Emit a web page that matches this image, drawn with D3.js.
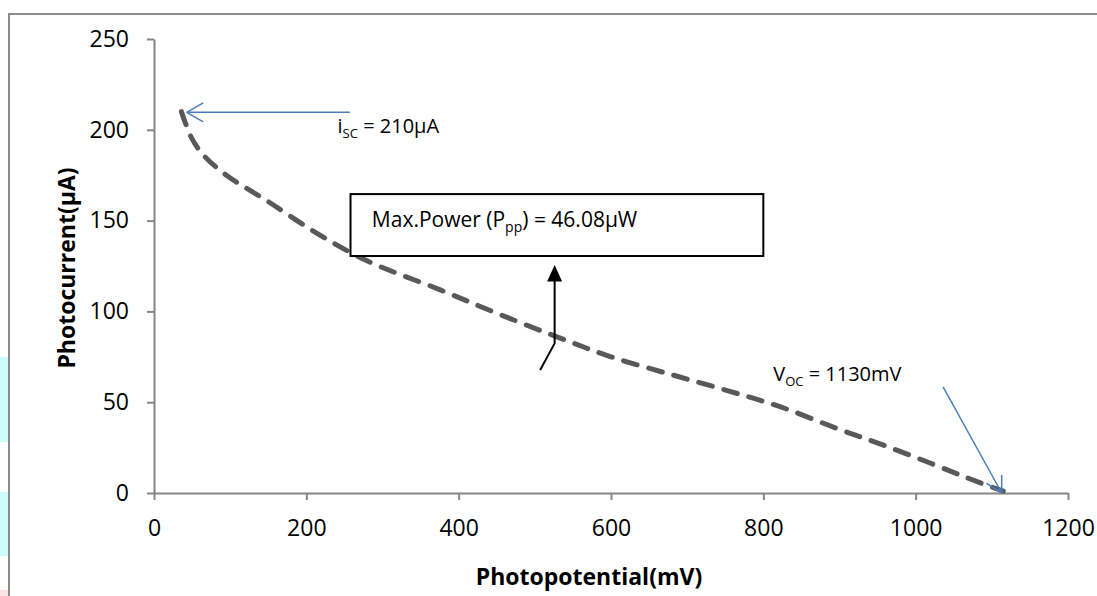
<!DOCTYPE html>
<html>
<head>
<meta charset="utf-8">
<script src="https://cdn.jsdelivr.net/npm/d3@7"></script>
<style>
  body { margin: 0; background: #fff; }
  svg { display: block; font-family: "Open Sans", sans-serif; }
</style>
</head>
<body>
<div id="chart"></div>
<script>
// I-V curve of the cell
const voltage = [36, 41, 50, 65, 95, 148, 214, 279, 375, 450, 529, 600, 681, 756, 822, 900, 960, 1019, 1070, 1115]
const current = [210, 204, 195, 186, 175, 161, 143, 128, 112, 99, 86, 75, 65, 56, 47.5, 35, 26, 16.5, 8, 1]
const xTicks = [0, 200, 400, 600, 800, 1000, 1200]
const yTicks = [0, 50, 100, 150, 200, 250]

const width = 1097, height = 596
const svg = d3.select("#chart").append("svg")
  .attr("width", width)
  .attr("height", height)

// scan artefacts on the left margin
svg.append("rect").attr("x", 0).attr("y", 357).attr("width", 8).attr("height", 85).attr("fill", "#ccfcfc")
svg.append("rect").attr("x", 0).attr("y", 492).attr("width", 8).attr("height", 64).attr("fill", "#ccfcfc")
svg.append("rect").attr("x", 0).attr("y", 590).attr("width", 8).attr("height", 6).attr("fill", "#fde4e4")

// chart frame (only top and left visible)
svg.append("path")
  .attr("d", `M9,${height} V14 H${width}`)
  .attr("fill", "none")
  .attr("stroke", "#8c8c8c")
  .attr("stroke-width", 2)

const x = d3.scaleLinear().domain([0, 1200]).range([154, 1068])
const y = d3.scaleLinear().domain([0, 250]).range([493, 39])

const axisColor = "#868686"

// Y axis
const gy = svg.append("g")
  .attr("transform", `translate(${x(0)},0)`)
  .call(d3.axisLeft(y).tickValues(yTicks).tickFormat(d3.format("d")).tickSize(7).tickSizeOuter(0).tickPadding(18))
gy.select(".domain").attr("stroke", axisColor).attr("stroke-width", 2)
gy.selectAll(".tick line").attr("stroke", axisColor).attr("stroke-width", 2)
gy.selectAll(".tick text")
  .attr("font-family", "Open Sans, sans-serif")
  .attr("font-size", 23)
  .attr("fill", "#000")

// X axis
const gx = svg.append("g")
  .attr("transform", `translate(0,${y(0)})`)
  .call(d3.axisBottom(x).tickValues(xTicks).tickFormat(d3.format("d")).tickSize(7).tickSizeOuter(0).tickPadding(20))
gx.select(".domain").attr("stroke", axisColor).attr("stroke-width", 2)
gx.selectAll(".tick line").attr("stroke", axisColor).attr("stroke-width", 2)
gx.selectAll(".tick text")
  .attr("font-family", "Open Sans, sans-serif")
  .attr("font-size", 23)
  .attr("fill", "#000")

// Axis titles
svg.append("text")
  .attr("x", 589)
  .attr("y", 585)
  .attr("text-anchor", "middle")
  .attr("font-weight", "bold")
  .attr("font-size", 23)
  .text("Photopotential(mV)")

svg.append("text")
  .attr("transform", `translate(75,268) rotate(-90)`)
  .attr("text-anchor", "middle")
  .attr("font-weight", "bold")
  .attr("font-size", 23)
  .text("Photocurrent(µA)")

// The curve (dashed, smoothed)
const data = voltage.map((v, i) => ({ v, c: current[i] }))
const line = d3.line()
  .x(d => x(d.v))
  .y(d => y(d.c))
  .curve(d3.curveCatmullRom.alpha(0.5))

svg.append("path")
  .datum(data)
  .attr("fill", "none")
  .attr("stroke", "#595959")
  .attr("stroke-width", 5)
  .attr("stroke-linecap", "round")
  .attr("stroke-dasharray", "14,12")
  .attr("d", line)

// Annotations
const blue = "#4a7ebb"

function openArrow(x1, y1, x2, y2, color, len, spread) {
  svg.append("line")
    .attr("x1", x1).attr("y1", y1).attr("x2", x2).attr("y2", y2)
    .attr("stroke", color).attr("stroke-width", 1.5)
  const a = Math.atan2(y1 - y2, x1 - x2)
  ;[-spread, spread].forEach(s => {
    svg.append("line")
      .attr("x1", x2).attr("y1", y2)
      .attr("x2", x2 + len * Math.cos(a + s))
      .attr("y2", y2 + len * Math.sin(a + s))
      .attr("stroke", color).attr("stroke-width", 1.5)
  })
}

// i_SC arrow
openArrow(x(257), y(209.6), x(43), y(209.6), blue, 19, 0.52)

const isc = svg.append("text")
  .attr("x", x(241))
  .attr("y", y(198.4))
  .attr("font-size", 20)
isc.append("tspan").text("i")
isc.append("tspan").attr("font-size", 13).attr("dy", 5).text("SC")
isc.append("tspan").attr("dy", -5).text(" = 210µA")

// V_OC arrow
openArrow(x(1036), y(58.5), x(1113), y(0), blue, 18, 0.5)

const voc = svg.append("text")
  .attr("x", x(813))
  .attr("y", y(61.8))
  .attr("font-size", 20)
voc.append("tspan").text("V")
voc.append("tspan").attr("font-size", 13).attr("dy", 5).text("OC")
voc.append("tspan").attr("dy", -5).text(" = 1130mV")

// Max power box
svg.append("rect")
  .attr("x", x(258))
  .attr("y", y(164.6))
  .attr("width", x(800) - x(258))
  .attr("height", y(130.5) - y(164.6))
  .attr("fill", "#fff")
  .attr("stroke", "#000")
  .attr("stroke-width", 2)

const mp = svg.append("text")
  .attr("x", x(286))
  .attr("y", y(146.6))
  .attr("font-size", 21)
mp.append("tspan").text("Max.Power (P")
mp.append("tspan").attr("font-size", 14).attr("dy", 5).text("pp")
mp.append("tspan").attr("dy", -5).text(") = 46.08µW")

// black pointer to the box
svg.append("path")
  .attr("d", `M${x(507)},${y(67.7)} L${x(526)},${y(82.4)} V${y(125.5) + 16}`)
  .attr("fill", "none")
  .attr("stroke", "#000")
  .attr("stroke-width", 2)

svg.append("path")
  .attr("d", `M${x(526)},${y(125.5)} l-7.5,16.5 h15 Z`)
  .attr("fill", "#000")
</script>
</body>
</html>
